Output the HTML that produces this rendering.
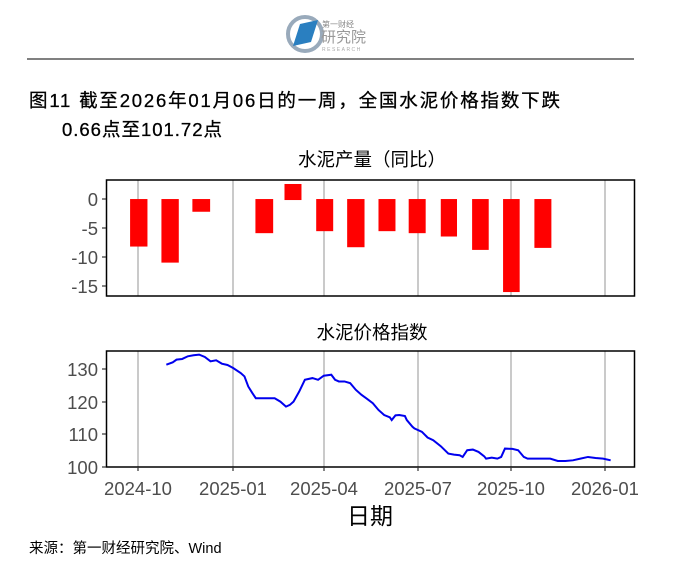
<!DOCTYPE html>
<html><head><meta charset="utf-8"><style>
body{margin:0;background:#fff;width:686px;height:569px;overflow:hidden}
svg text{font-family:"Liberation Sans","Noto Sans CJK SC",sans-serif}
</style></head><body>
<svg width="686" height="569" viewBox="0 0 686 569">
<circle cx="305" cy="34" r="17" fill="none" stroke="#9ab" stroke-width="4"/>
<path d="M293 46 L300 24 L318 20 L311 42 Z" fill="#2a7fc0"/>
<text x="322" y="27" font-size="8" fill="#888">第一财经</text>
<text x="321" y="42" font-size="15" fill="#999">研究院</text>
<text x="322" y="51" font-size="5" fill="#aaa" letter-spacing="1.5">RESEARCH</text>
<line x1="27" y1="59" x2="634" y2="59" stroke="#000" stroke-width="1"/>
<text x="29" y="107" font-size="18.5" fill="#000" stroke="#000" stroke-width="0.3" textLength="531" lengthAdjust="spacing">图11  截至2026年01月06日的一周，全国水泥价格指数下跌</text>
<text x="62" y="136" font-size="18.5" fill="#000" stroke="#000" stroke-width="0.3" textLength="160" lengthAdjust="spacing">0.66点至101.72点</text>

<text x="372" y="166" font-size="18.5" fill="#000" text-anchor="middle">水泥产量（同比）</text>
<text x="372" y="339" font-size="18.5" fill="#000" text-anchor="middle">水泥价格指数</text>

<g stroke="#bdbdbd" stroke-width="1.6">
<line x1="138" y1="180" x2="138" y2="296"/><line x1="233" y1="180" x2="233" y2="296"/><line x1="324" y1="180" x2="324" y2="296"/><line x1="418" y1="180" x2="418" y2="296"/><line x1="511" y1="180" x2="511" y2="296"/><line x1="605" y1="180" x2="605" y2="296"/>
<line x1="138" y1="351" x2="138" y2="467"/><line x1="233" y1="351" x2="233" y2="467"/><line x1="324" y1="351" x2="324" y2="467"/><line x1="418" y1="351" x2="418" y2="467"/><line x1="511" y1="351" x2="511" y2="467"/><line x1="605" y1="351" x2="605" y2="467"/>
</g>
<g transform="translate(59.5,170.6) scale(0.3775,0.3346)" fill="#ff0000">
<rect x="187" y="85" width="46" height="142"/>
<rect x="270" y="85" width="46" height="190"/>
<rect x="352" y="85" width="47" height="38"/>
<rect x="519" y="85" width="47" height="102"/>
<rect x="596" y="40" width="45" height="48"/>
<rect x="680" y="85" width="45" height="96"/>
<rect x="762" y="85" width="46" height="144"/>
<rect x="845" y="85" width="45" height="96"/>
<rect x="925" y="85" width="45" height="102"/>
<rect x="1010" y="85" width="43" height="112"/>
<rect x="1093" y="85" width="44" height="152"/>
<rect x="1175" y="85" width="44" height="278"/>
<rect x="1258" y="85" width="45" height="146"/>
</g>
<rect x="106.5" y="180" width="528" height="116" fill="none" stroke="#000" stroke-width="1.5"/>
<g transform="translate(59.5,339.5) scale(0.3775,0.3356)">
<polyline fill="none" stroke="#0000ee" stroke-width="2" vector-effect="non-scaling-stroke" points="283,75 300,68 310,60 325,58 340,50 355,47 370,45 385,52 400,65 415,62 430,72 445,76 460,85 480,100 490,110 500,140 510,158 520,175 545,175 570,175 585,185 600,200 610,195 620,185 635,155 650,120 670,115 685,120 700,108 720,105 730,120 740,125 755,125 770,130 785,150 800,165 815,177 830,190 845,210 860,225 875,232 880,240 890,226 900,225 915,228 920,240 935,260 940,265 960,275 975,292 990,300 1010,318 1030,340 1045,343 1060,345 1068,350 1080,330 1095,328 1110,335 1125,348 1130,355 1145,352 1160,355 1170,350 1180,325 1200,326 1215,330 1230,350 1240,355 1270,355 1300,355 1320,362 1340,362 1360,360 1380,355 1400,350 1420,353 1440,355 1460,360"/>
</g>
<rect x="106.5" y="351" width="528" height="116" fill="none" stroke="#000" stroke-width="1.5"/>

<g stroke="#333" stroke-width="1.2">
<line x1="102" y1="199" x2="106" y2="199"/><line x1="102" y1="228" x2="106" y2="228"/><line x1="102" y1="257" x2="106" y2="257"/><line x1="102" y1="286" x2="106" y2="286"/>
<line x1="102" y1="369" x2="106" y2="369"/><line x1="102" y1="402" x2="106" y2="402"/><line x1="102" y1="434" x2="106" y2="434"/><line x1="102" y1="467" x2="106" y2="467"/>
<line x1="138" y1="467" x2="138" y2="471"/><line x1="233" y1="467" x2="233" y2="471"/><line x1="324" y1="467" x2="324" y2="471"/><line x1="418" y1="467" x2="418" y2="471"/><line x1="511" y1="467" x2="511" y2="471"/><line x1="605" y1="467" x2="605" y2="471"/>
</g>
<g font-size="18.5" fill="#4d4d4d" text-anchor="end">
<text x="98" y="206">0</text><text x="98" y="235">-5</text><text x="98" y="264">-10</text><text x="98" y="293">-15</text>
<text x="98" y="376">130</text><text x="98" y="409">120</text><text x="98" y="441">110</text><text x="98" y="474">100</text>
</g>
<g font-size="18.5" fill="#4d4d4d" text-anchor="middle">
<text x="138" y="495">2024-10</text><text x="233" y="495">2025-01</text><text x="324" y="495">2025-04</text><text x="418" y="495">2025-07</text><text x="511" y="495">2025-10</text><text x="605" y="495">2026-01</text>
</g>
<text x="370" y="524" font-size="23" fill="#000" text-anchor="middle">日期</text>
<text x="29" y="553" font-size="14.5" fill="#000">来源：第一财经研究院、Wind</text>
</svg>
</body></html>
